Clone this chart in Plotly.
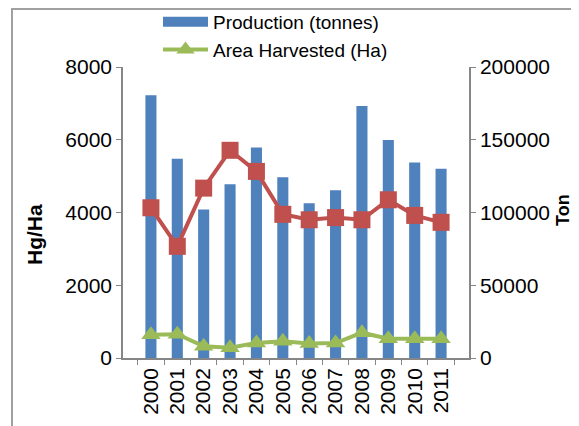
import plotly.graph_objects as go

years = ['2000', '2001', '2002', '2003', '2004', '2005',
         '2006', '2007', '2008', '2009', '2010', '2011']
production = [180500, 137000, 102000, 119400, 144600, 124200,
              106300, 115300, 173200, 149900, 134300, 130100]
yield_hg = [4130, 3070, 4670, 5710, 5130, 3950,
            3800, 3860, 3800, 4350, 3920, 3730]
area = [16000, 16300, 8000, 7100, 10300, 11500,
        9900, 10300, 17400, 13300, 13300, 13300]

fnt = dict(family="Liberation Sans, Arial, sans-serif", size=21, color="black")
axis_col = "#868686"
blue, red, green = "#4F81BD", "#C0504D", "#9BBB59"

fig = go.Figure()
# bars on the right (tonnes) axis
fig.add_trace(go.Bar(x=years, y=production, name="Production (tonnes)",
                     marker=dict(color=blue, line=dict(width=0)),
                     showlegend=False, yaxis="y"))
# wide legend swatch for the bars
fig.add_trace(go.Scatter(x=[years[0]], y=[None], name="Production (tonnes)",
                         mode="lines", line=dict(color=blue, width=12),
                         yaxis="y"))
# yield on the left (Hg/Ha) axis, drawn above the bars
fig.add_trace(go.Scatter(x=years, y=yield_hg, name="Yield (Hg/Ha)",
                         mode="lines+markers", showlegend=False, yaxis="y2",
                         line=dict(color=red, width=4),
                         marker=dict(symbol="square", size=17, color=red)))
fig.add_trace(go.Scatter(x=years, y=area, name="Area Harvested (Ha)",
                         mode="lines+markers", yaxis="y3",
                         line=dict(color=green, width=4),
                         marker=dict(symbol="triangle-up", size=17, color=green)))

fig.update_layout(
    width=579, height=426,
    # page body has an 8px margin, so the plot area lands at 123..469 x 67..358
    margin=dict(l=115, r=118, t=59, b=76, autoexpand=False),
    paper_bgcolor="white", plot_bgcolor="white",
    font=fnt,
    bargap=0.58,
    showlegend=True,
    legend=dict(x=(158 - 123) / 346, y=(358 - 3) / 291, xanchor="left", yanchor="top",
                font=dict(size=19), tracegroupgap=0, itemwidth=45,
                bgcolor="rgba(0,0,0,0)"),
    xaxis=dict(type="category", showline=True, linecolor=axis_col, linewidth=1.5,
               ticks="outside", tickson="boundaries", ticklen=5, tickcolor=axis_col,
               tickangle=-90, tickfont=fnt, showgrid=False, automargin=False),
    yaxis=dict(range=[0, 200000], dtick=50000, side="right",
               showline=True, linecolor=axis_col, linewidth=1.5, ticks="outside",
               ticklen=5, tickcolor=axis_col, showgrid=False, zeroline=False,
               tickformat="d", tickfont=fnt, automargin=False),
    yaxis2=dict(range=[0, 8000], dtick=2000, overlaying="y", side="left",
                showline=True, linecolor=axis_col, linewidth=1.5, ticks="outside",
                ticklen=5, tickcolor=axis_col, showgrid=False, zeroline=False,
                tickformat="d", tickfont=fnt, automargin=False),
    yaxis3=dict(range=[0, 200000], overlaying="y", visible=False),
    annotations=[
        dict(text="<b>Hg/Ha</b>", xref="paper", yref="paper",
             x=(35 - 123) / 346, y=(358 - 235) / 291, textangle=-90,
             xanchor="center", yanchor="middle",
             showarrow=False, font=dict(size=21)),
        dict(text="<b>Ton</b>", xref="paper", yref="paper",
             x=(563 - 123) / 346, y=(358 - 210) / 291, textangle=-90,
             xanchor="center", yanchor="middle",
             showarrow=False, font=dict(size=18)),
    ],
    shapes=[dict(type="rect", xref="paper", yref="paper",
                 x0=(12 - 123) / 346, y0=-1, x1=2, y1=(358 - 9) / 291,
                 line=dict(color="#A0A0A0", width=2))],
)

fig.write_html("out.html")
